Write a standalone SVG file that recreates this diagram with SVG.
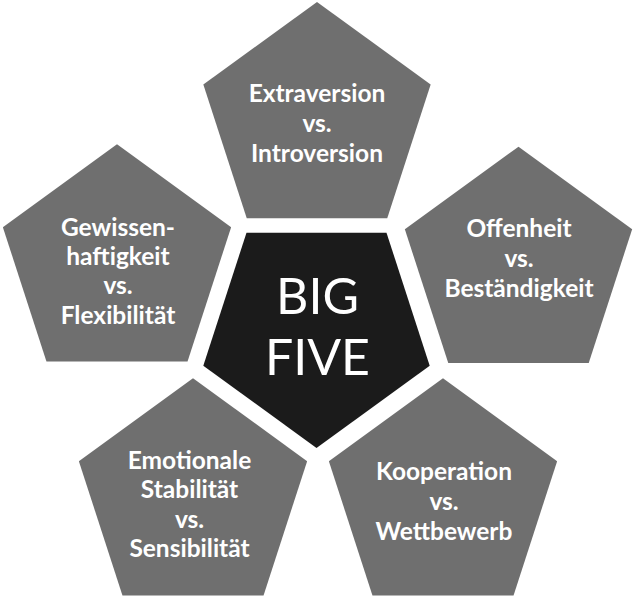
<svg xmlns="http://www.w3.org/2000/svg" width="636" height="597" viewBox="0 0 636 597">
<style>
.outer{fill:#6f6f6f}
.core{fill:#1b1b1b}
.lbl{font-family:Lato,"Open Sans","Liberation Sans",sans-serif;font-weight:bold;font-size:24.5px;fill:#ffffff;text-anchor:middle}
.big{font-family:Lato,"Open Sans","Liberation Sans",sans-serif;font-weight:normal;font-size:50px;fill:#ffffff;text-anchor:middle}
</style>
<rect width="636" height="597" fill="#ffffff"/>
<g id="connectors"></g>
<g id="node-center">
<polygon class="core" points="316.5,448 429.7,365.8 386.5,232.7 246.5,232.7 203.3,365.8"/>
<text class="big" x="317.5" y="314">BIG</text>
<text class="big" x="317.5" y="375">FIVE</text>
</g>
<g id="node-extraversion">
<polygon class="outer" points="317,2 430.66,84.57 387.24,218.18 246.76,218.18 203.34,84.57"/>
<text class="lbl" x="317" y="102">Extraversion</text>
<text class="lbl" x="317" y="132">vs.</text>
<text class="lbl" x="317" y="162">Introversion</text>
</g>
<g id="node-gewissenhaftigkeit">
<polygon class="outer" points="117,144.3 231.13,227.22 187.54,361.38 46.46,361.38 2.87,227.22"/>
<text class="lbl" x="118" y="235.5">Gewissen-</text>
<text class="lbl" x="118" y="265">haftigkeit</text>
<text class="lbl" x="118" y="294">vs.</text>
<text class="lbl" x="118" y="323.5">Flexibilität</text>
</g>
<g id="node-offenheit">
<polygon class="outer" points="518.5,146.7 632.16,229.27 588.74,362.88 448.26,362.88 404.84,229.27"/>
<text class="lbl" x="519" y="237.3">Offenheit</text>
<text class="lbl" x="519" y="267">vs.</text>
<text class="lbl" x="519" y="296.7">Beständigkeit</text>
</g>
<g id="node-emotionale">
<polygon class="outer" points="193,378.3 307.13,461.22 263.54,595.38 122.46,595.38 78.87,461.22"/>
<text class="lbl" x="189.5" y="469">Emotionale</text>
<text class="lbl" x="189.5" y="498.3">Stabilität</text>
<text class="lbl" x="189.5" y="527.5">vs.</text>
<text class="lbl" x="189.5" y="556.7">Sensibilität</text>
</g>
<g id="node-kooperation">
<polygon class="outer" points="443,378.3 557.13,461.22 513.54,595.38 372.46,595.38 328.87,461.22"/>
<text class="lbl" x="444" y="480">Kooperation</text>
<text class="lbl" x="444" y="510">vs.</text>
<text class="lbl" x="444" y="540">Wettbewerb</text>
</g>
</svg>
